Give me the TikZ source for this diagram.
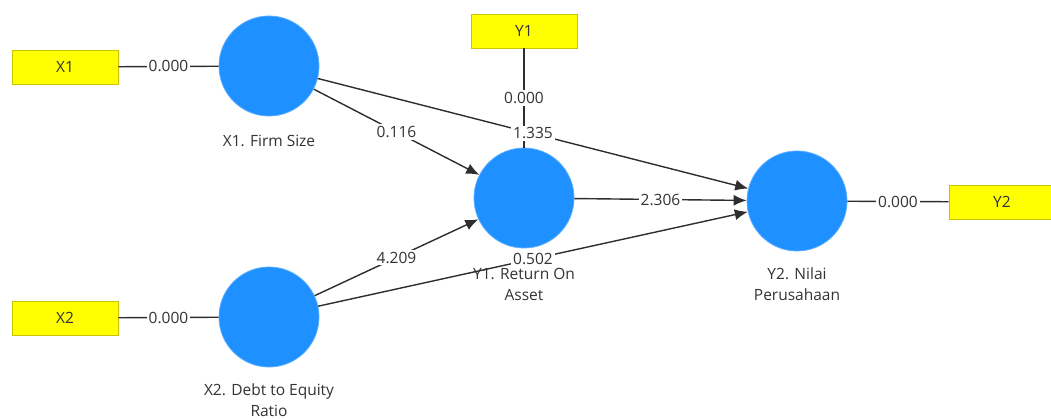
\documentclass[tikz,border=0pt]{standalone}
\usepackage{fontspec}
\setmainfont{Open Sans}
\usetikzlibrary{arrows.meta}
\definecolor{lvblue}{HTML}{1E90FF}
\definecolor{lvedge}{HTML}{5AAEFF}
\definecolor{indfill}{HTML}{FFFF00}
\definecolor{inddraw}{HTML}{C8C400}
\definecolor{linegray}{HTML}{2E2E2E}
\definecolor{txtgray}{HTML}{333333}
\begin{document}
\begin{tikzpicture}[x=1pt,y=-1pt,
  lv/.style={circle, fill=lvblue, draw=lvedge, line width=0.8pt, minimum size=100pt, inner sep=0pt},
  ind/.style={rectangle, fill=indfill, draw=inddraw, line width=0.8pt, minimum width=106pt, minimum height=34pt, inner sep=0pt, font=\fontsize{15.5}{18}\selectfont, text=txtgray},
  lvlabel/.style={align=center, font=\fontsize{15.5}{21}\selectfont, text=txtgray, inner sep=0pt},
  edge/.style={draw=linegray, line width=1.4pt},
  arr/.style={edge, -{Latex[length=13pt,width=11pt]}},
  val/.style={fill=white, inner sep=2pt, font=\fontsize{15.5}{18}\selectfont, text=txtgray}
]
\useasboundingbox (0,0) rectangle (1051,419);
\fill[white] (0,0) rectangle (1051,419);

% indicators
\node[ind] (bx1) at (65,67) {X1};
\node[ind] (bx2) at (65,318) {X2};
\node[ind] (by1) at (524,31) {Y1};
\node[ind] (by2) at (1002,202) {Y2};

% latent variables
\node[lv] (x1) at (269,66) {};
\node[lv] (x2) at (269,317) {};
\node[lv] (y1) at (524,198) {};
\node[lv] (y2) at (797,201) {};

% latent labels
\node[lvlabel] (lx1) at (269,141) {X1. Firm Size};
\node[lvlabel] (ly1) at (524,284) {Y1. Return On\\Asset};
\node[lvlabel] (ly2) at (797,284) {Y2. Nilai\\Perusahaan};
\node[lvlabel] (lx2) at (269,400) {X2. Debt to Equity\\Ratio};

% outer model edges
\draw[edge] (bx1) -- node[val]{0.000} (x1);
\draw[edge] (bx2) -- node[val]{0.000} (x2);
\draw[edge] (by1) -- node[val]{0.000} (y1);
\draw[edge] (y2) -- node[val]{0.000} (by2);

% inner model edges
\draw[arr] (x1) -- node[val]{0.116} (y1);
\draw[arr] (x1) -- node[val]{1.335} (y2);
\draw[arr] (x2) -- node[val]{4.209} (y1);
\draw[arr] (x2) -- node[val]{0.502} (y2);
\draw[arr] (y1) -- node[val]{2.306} (y2);
\end{tikzpicture}
\end{document}
